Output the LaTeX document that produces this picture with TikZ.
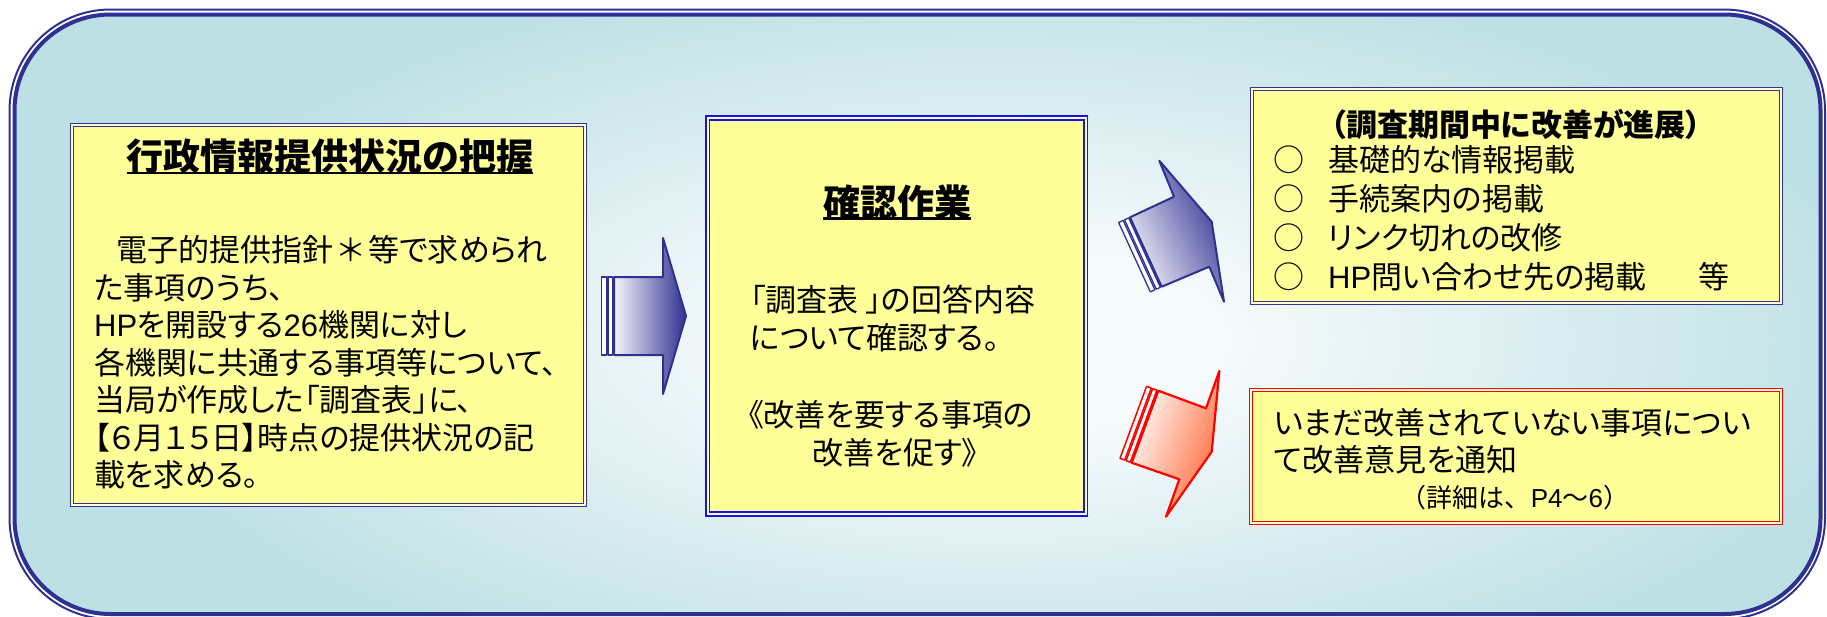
\documentclass[tikz,border=0pt]{standalone}
\usepackage{fontspec}
\newfontfamily\jp[RawFeature=+palt]{Noto Sans CJK JP}
\newfontfamily\jpfw{Noto Sans CJK JP}
\newfontfamily\latf{Liberation Sans}
\usetikzlibrary{calc}
\definecolor{navy}{RGB}{46,49,146}
\definecolor{boxnavy}{RGB}{51,51,153}
\definecolor{boxblue}{RGB}{20,20,235}
\definecolor{boxred}{RGB}{255,0,0}
\definecolor{boxfill}{RGB}{255,255,153}
\definecolor{gapfill}{RGB}{255,255,215}
\definecolor{bgedge}{RGB}{189,224,228}
\definecolor{bgmid}{RGB}{225,240,243}
\definecolor{bgcenter}{RGB}{246,251,252}
\definecolor{arrowlight}{RGB}{246,244,250}
\definecolor{arrowred}{RGB}{255,105,55}
\pgfdeclareradialshading{bgradial}{\pgfpoint{0bp}{0bp}}{color(0bp)=(bgcenter); color(6bp)=(bgcenter); color(13bp)=(bgmid); color(25bp)=(bgedge); color(50bp)=(bgedge)}
\newcommand\arrowstripes[3]{%
  \draw[#3] ($(#1)!1.5pt!-90:(#2)$) -- ($(#2)!1.5pt!90:(#1)$) -- ($(#2)!6pt!90:(#1)$) -- ($(#1)!6pt!-90:(#2)$) -- cycle;
  \draw[#3] ($(#1)!7.5pt!-90:(#2)$) -- ($(#2)!7.5pt!90:(#1)$) -- ($(#2)!12.5pt!90:(#1)$) -- ($(#1)!12.5pt!-90:(#2)$) -- cycle;}
\newcommand\lat[1]{{\latf #1}}
\begin{document}
\begin{tikzpicture}[x=1pt,y=-1pt,
  boxnode/.style={rectangle, fill=boxfill, line width=1.3pt, double distance=1.6pt, inner sep=0pt},
  txt/.style={font=\jp\fontsize{31pt}{37pt}\selectfont, inner sep=0pt, anchor=base west},
  ttl/.style={font=\jp\bfseries\fontsize{37pt}{44pt}\selectfont, inner sep=0pt, anchor=base},
  subttl/.style={font=\jp\bfseries\fontsize{31pt}{37pt}\selectfont, inner sep=0pt, anchor=base},
  small/.style={font=\jpfw\fontsize{26pt}{31pt}\selectfont, inner sep=0pt, anchor=base},
  ctr/.style={font=\jp\fontsize{31pt}{37pt}\selectfont, inner sep=0pt, anchor=base},
  uline/.style={line width=2.5pt},
  bluearrow/.style={draw=navy, line width=2pt, line join=round, left color=arrowlight, right color=navy},
  redarrow/.style={draw=boxred, line width=2.2pt, line join=round, left color=white, right color=arrowred},
  bluestripe/.style={draw=navy, fill=white, line width=1.3pt, line join=round},
  redstripe/.style={draw=boxred, fill=white, line width=1.5pt, line join=round}]
\useasboundingbox (0,0) rectangle (1827,616);
% background frame
\begin{scope}
  \clip[rounded corners=96pt] (14.5,14.5) rectangle (1820.5,614);
  \fill[bgedge] (0,0) rectangle (1827,616);
  \shade[shading=bgradial] (1000,340) ellipse [x radius=900pt, y radius=380pt];
\end{scope}
\draw[navy, line width=2pt, rounded corners=101pt] (9.5,9.5) rectangle (1825,619);
\draw[navy, line width=4pt, rounded corners=96pt] (14.5,14.5) rectangle (1820.5,614);
% boxes
\node[boxnode, draw=boxnavy, double=gapfill, minimum width=513pt, minimum height=380pt] (lbox) at (328.5,315) {};
\node[boxnode, draw=boxblue, double=gapfill, line width=1.7pt, double distance=2pt, minimum width=378pt, minimum height=396pt] (mbox) at (896.5,316) {};
\node[boxnode, draw=boxnavy, double=gapfill, minimum width=529pt, minimum height=214pt] (tbox) at (1516.5,196) {};
\node[boxnode, draw=boxred, double=gapfill, minimum width=530pt, minimum height=133pt] (bbox) at (1516,456.5) {};
% left box text
\node[ttl] (ltitle) at (330,170) {行政情報提供状況の把握};
\draw[uline] ([yshift=-3pt]ltitle.base west) -- ([yshift=-3pt]ltitle.base east);
\node[txt] (l1) at (116,261.8) {電子的提供指針\hbox to 35pt{\hss＊\hss}等で求められ};
\node[txt] (l2) at (94,299.3) {た事項のうち、};
\node[txt] (l3) at (94,336.8) {\lat{HP}を開設する\lat{26}機関に対し};
\node[txt] (l4) at (94,374.3) {各機関に共通する事項等について、};
\node[txt] (l5) at (94,411.8) {当局が作成した「調査表」に、};
\node[txt] (l6) at (94,449.3) {【６月１５日】時点の提供状況の記};
\node[txt] (l7) at (94,486.8) {載を求める。};
% middle box text
\node[ttl] (mtitle) at (897,216) {確認作業};
\draw[uline] ([yshift=-2.5pt]mtitle.base west) -- ([yshift=-2.5pt]mtitle.base east);
\node[txt] (m1) at (750,311.8) {「調査表 」の回答内容};
\node[txt] (m2) at (750,349.8) {について確認する。};
\node[txt] (m3) at (748,426.8) {《改善を要する事項の};
\node[ctr] (m4) at (895,464.8) {改善を促す》};
% top right box text
\node[subttl] (ttitle) at (1516,136.8) {（調査期間中に改善が進展）};
\node[txt] (t1) at (1273,171.8) {○\hspace{24pt}基礎的な情報掲載};
\node[txt] (t2) at (1273,210.8) {○\hspace{24pt}手続案内の掲載};
\node[txt] (t3) at (1273,249.8) {○\hspace{24pt}リンク切れの改修};
\node[txt] (t4) at (1273,288.8) {○\hspace{24pt}\lat{HP}問い合わせ先の掲載};
\node[txt] (t5) at (1698,288.8) {等};
% bottom right box text
\node[txt] (b1) at (1274,434.8) {いまだ改善されていない事項につい};
\node[txt] (b2) at (1274,471.8) {て改善意見を通知};
\node[small] (b3) at (1515,507) {（詳細は、\lat{P4}～\lat{6}）};
% arrow 1
\coordinate (a1tl) at (614,277);
\coordinate (a1bl) at (614,355);
\shadedraw[bluearrow] (a1tl) -- (663,277) -- (663,238) -- (686,316) -- (663,394) -- (663,355) -- (a1bl) -- cycle;
\arrowstripes{a1tl}{a1bl}{bluestripe}
% arrow 2
\coordinate (a2tl) at (1130,217.3);
\coordinate (a2bl) at (1161.7,286.7);
\shadedraw[bluearrow, shading angle=115] (a2tl) -- (1174,196.7) -- (1159.3,160.7) -- (1211.7,221.7) -- (1224,301.7) -- (1209.3,266.7) -- (a2bl) -- cycle;
\arrowstripes{a2tl}{a2bl}{bluestripe}
% arrow 3
\coordinate (a3tl) at (1158.3,390.7);
\coordinate (a3bl) at (1131.7,462.7);
\shadedraw[redarrow, shading angle=69.4] (a3tl) -- (1206,408.3) -- (1219.3,371) -- (1211.7,451.7) -- (1166,516.7) -- (1179.3,479.3) -- (a3bl) -- cycle;
\arrowstripes{a3tl}{a3bl}{redstripe}
\end{tikzpicture}
\end{document}
